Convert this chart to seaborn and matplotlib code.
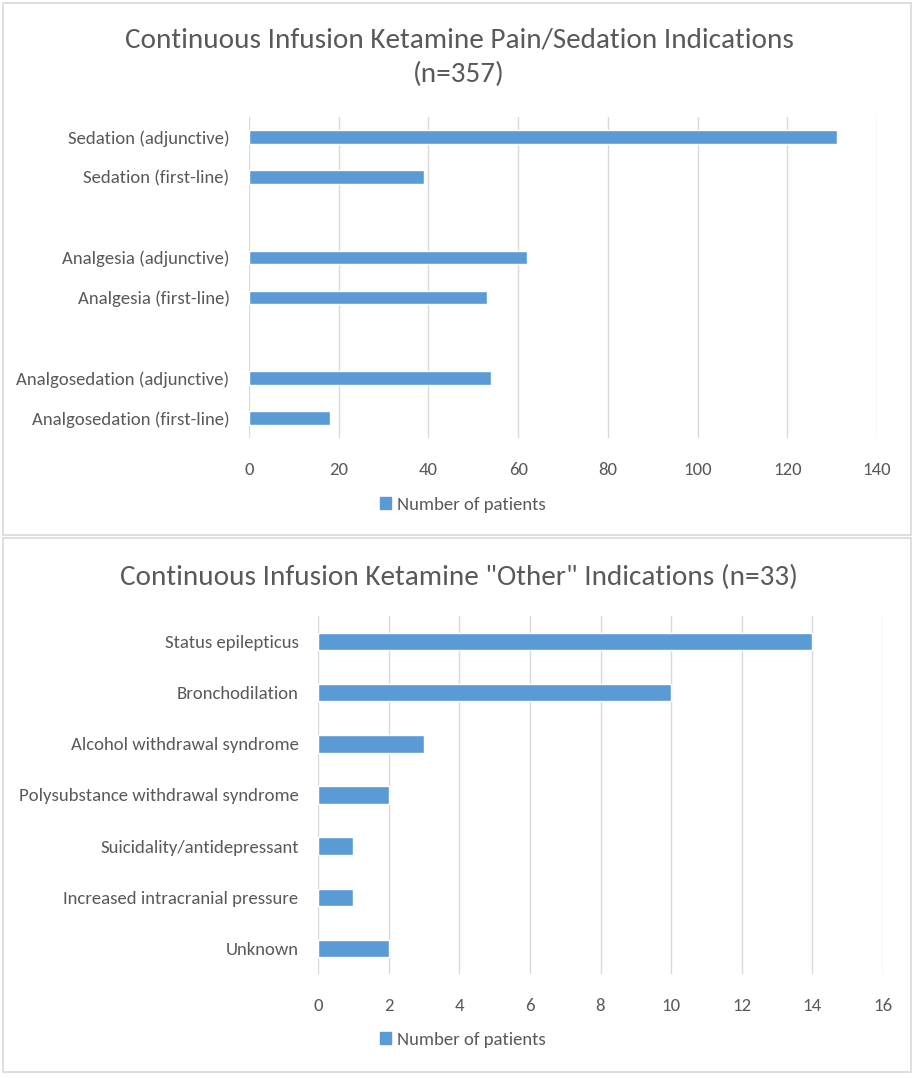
import matplotlib
matplotlib.use("Agg")
import matplotlib.pyplot as plt
from matplotlib import font_manager
from matplotlib.patches import Rectangle, Patch
import seaborn as sns
import pandas as pd

# --- data -------------------------------------------------------------
pain_labels = [
    "Sedation (adjunctive)",
    "Sedation (first-line)",
    "Analgesia (adjunctive)",
    "Analgesia (first-line)",
    "Analgosedation (adjunctive)",
    "Analgosedation (first-line)",
]
pain_counts = [131, 39, 62, 53, 54, 18]
# empty slots separate the three indication groups
pain_order = [
    "Sedation (adjunctive)",
    "Sedation (first-line)",
    "",
    "Analgesia (adjunctive)",
    "Analgesia (first-line)",
    " ",
    "Analgosedation (adjunctive)",
    "Analgosedation (first-line)",
]
pain_ticks = [0, 20, 40, 60, 80, 100, 120, 140]

other_labels = [
    "Status epilepticus",
    "Bronchodilation",
    "Alcohol withdrawal syndrome",
    "Polysubstance withdrawal syndrome",
    "Suicidality/antidepressant",
    "Increased intracranial pressure",
    "Unknown",
]
other_counts = [14, 10, 3, 2, 1, 1, 2]
other_ticks = [0, 2, 4, 6, 8, 10, 12, 14, 16]

series_name = "Number of patients"
title_top = "Continuous Infusion Ketamine Pain/Sedation Indications\n(n=357)"
title_bottom = 'Continuous Infusion Ketamine "Other" Indications (n=33)'

# --- style ------------------------------------------------------------
BLUE = "#5B9BD5"
TEXT = "#595959"
GRID = "#D9D9D9"
BORDER = "#D9D9D9"
LABEL_SIZE = 13.5
TITLE_SIZE = 21

sns.set_theme(style="white")
available = {f.name for f in font_manager.fontManager.ttflist}
family = "Carlito" if "Carlito" in available else "Lato"
plt.rcParams["font.family"] = [family, "DejaVu Sans"]

W, H = 914, 1078
fig = plt.figure(figsize=(W / 100, H / 100), dpi=100)


def px_axes(left, top, right, bottom):
    return fig.add_axes([left / W, 1 - bottom / H, (right - left) / W, (bottom - top) / H])


def frame(left, top, right, bottom):
    fig.patches.append(Rectangle((left / W, 1 - bottom / H), (right - left) / W, (bottom - top) / H,
                                 transform=fig.transFigure, fill=False,
                                 edgecolor=BORDER, linewidth=1.2))


def style_axes(ax, ticks, pad):
    ax.set_xlim(ticks[0], ticks[-1])
    ax.set_xticks(ticks)
    ax.xaxis.grid(True, color=GRID, linewidth=1)
    ax.set_axisbelow(True)
    for s in ax.spines.values():
        s.set_visible(False)
    ax.tick_params(axis="both", length=0, colors=TEXT, labelsize=LABEL_SIZE)
    ax.tick_params(axis="x", pad=pad)
    ax.tick_params(axis="y", pad=14)
    ax.set_xlabel("")
    ax.set_ylabel("")


def add_legend(y_px):
    fig.legend(handles=[Patch(color=BLUE, label=series_name)], loc="center",
               bbox_to_anchor=(463 / W, 1 - y_px / H), frameon=False, fontsize=LABEL_SIZE,
               handlelength=0.6, handleheight=0.6, handletextpad=0.3, labelcolor=TEXT)


# chart borders
frame(3, 3, 911, 535)
frame(3, 538, 911, 1072)

# --- top chart --------------------------------------------------------
df_pain = pd.DataFrame({"label": pain_labels, "count": pain_counts})
ax1 = px_axes(249, 117, 877, 438)
sns.barplot(data=df_pain, x="count", y="label", order=pain_order, color=BLUE,
            saturation=1, width=0.34, ax=ax1)
style_axes(ax1, pain_ticks, 17)
fig.text(459 / W, 1 - 57 / H, title_top, ha="center", va="center", fontsize=TITLE_SIZE,
         color=TEXT, linespacing=1.45, fontweight="light")
add_legend(505)

# --- bottom chart -----------------------------------------------------
df_other = pd.DataFrame({"label": other_labels, "count": other_counts})
ax2 = px_axes(318, 616, 883, 974)
sns.barplot(data=df_other, x="count", y="label", order=other_labels, color=BLUE,
            saturation=1, width=0.34, ax=ax2)
style_axes(ax2, other_ticks, 17)
fig.text(459 / W, 1 - 577 / H, title_bottom, ha="center", va="center", fontsize=TITLE_SIZE,
         color=TEXT, fontweight="light")
add_legend(1040)

fig.savefig("out.png", dpi=100, facecolor="white")
